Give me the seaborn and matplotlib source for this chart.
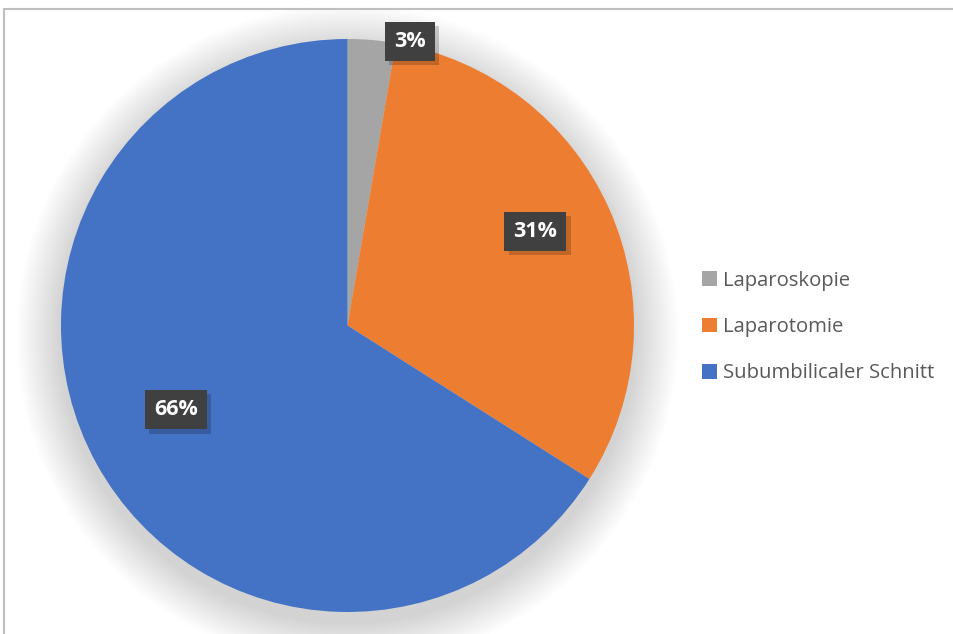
import matplotlib
matplotlib.use("Agg")
import matplotlib.pyplot as plt
import matplotlib.patheffects as pe
from matplotlib.patches import Rectangle, Circle
import seaborn as sns
import numpy as np

categories = ["Laparoskopie", "Laparotomie", "Subumbilicaler Schnitt"]
values = [2.7, 31.3, 66.0]
pct_labels = ["3%", "31%", "66%"]
colors = ["#A5A5A5", "#ED7D31", "#4472C4"]

sns.set_theme(style="white")
plt.rcParams["font.family"] = ["Open Sans", "DejaVu Sans"]

W, H = 954, 634
fig = plt.figure(figsize=(W / 100, H / 100), dpi=100)
fig.patch.set_facecolor("white")

# outer chart frame (extends beyond image at right / bottom)
fig.patches.append(Rectangle((4 / W, -0.05), 1.1, 1 - 9 / H + 0.05,
                             transform=fig.transFigure, fill=False,
                             edgecolor="#BFBFBF", lw=1.5, zorder=0))

ax = fig.add_axes([61 / W, 22 / H, 573 / W, 573 / H])
ax.set_xlim(-1, 1)
ax.set_ylim(-1, 1)
ax.set_aspect("equal")
ax.axis("off")

# soft shadow around the pie
for i in range(22):
    r = 1.0 + 0.007 * (22 - i)
    ax.add_patch(Circle((0, -0.035), r, facecolor="#000000",
                        alpha=0.006, lw=0, zorder=0, clip_on=False))

wedges, _ = ax.pie(values, colors=colors, startangle=90, counterclock=False,
                   radius=1.0, wedgeprops=dict(linewidth=0),
                   frame=False)
ax.set_xlim(-1, 1)
ax.set_ylim(-1, 1)

# label placement (radius factor, angular tweak in degrees) per slice
label_r = [1.015, 0.733, 0.667]
label_tweak = [-7.5, 2.6, -2.6]
for w, lab, rr, tw in zip(wedges, pct_labels, label_r, label_tweak):
    ang = np.deg2rad((w.theta1 + w.theta2) / 2 + tw)
    x, y = rr * np.cos(ang), rr * np.sin(ang)
    t = ax.text(x, y, lab, ha="center", va="center", color="white",
                fontsize=15.5, fontweight="bold", zorder=5, clip_on=False,
                bbox=dict(boxstyle="square,pad=0.42", facecolor="#404040",
                          edgecolor="none", lw=0))
    t.get_bbox_patch().set_path_effects([
        pe.SimplePatchShadow(offset=(3, -3), shadow_rgbFace="#000000", alpha=0.18),
        pe.Normal()])

handles = [Rectangle((0, 0), 1, 1, facecolor=c, edgecolor="none") for c in colors]
leg = fig.legend(handles, categories, loc="center left",
                 bbox_to_anchor=(692 / W, 1 - 327 / H), frameon=False,
                 fontsize=14.6, handlelength=0.75, handleheight=0.75,
                 handletextpad=0.3, labelspacing=1.3, borderpad=0)
for txt in leg.get_texts():
    txt.set_color("#595959")

fig.savefig("out.png", dpi=100, facecolor="white")
